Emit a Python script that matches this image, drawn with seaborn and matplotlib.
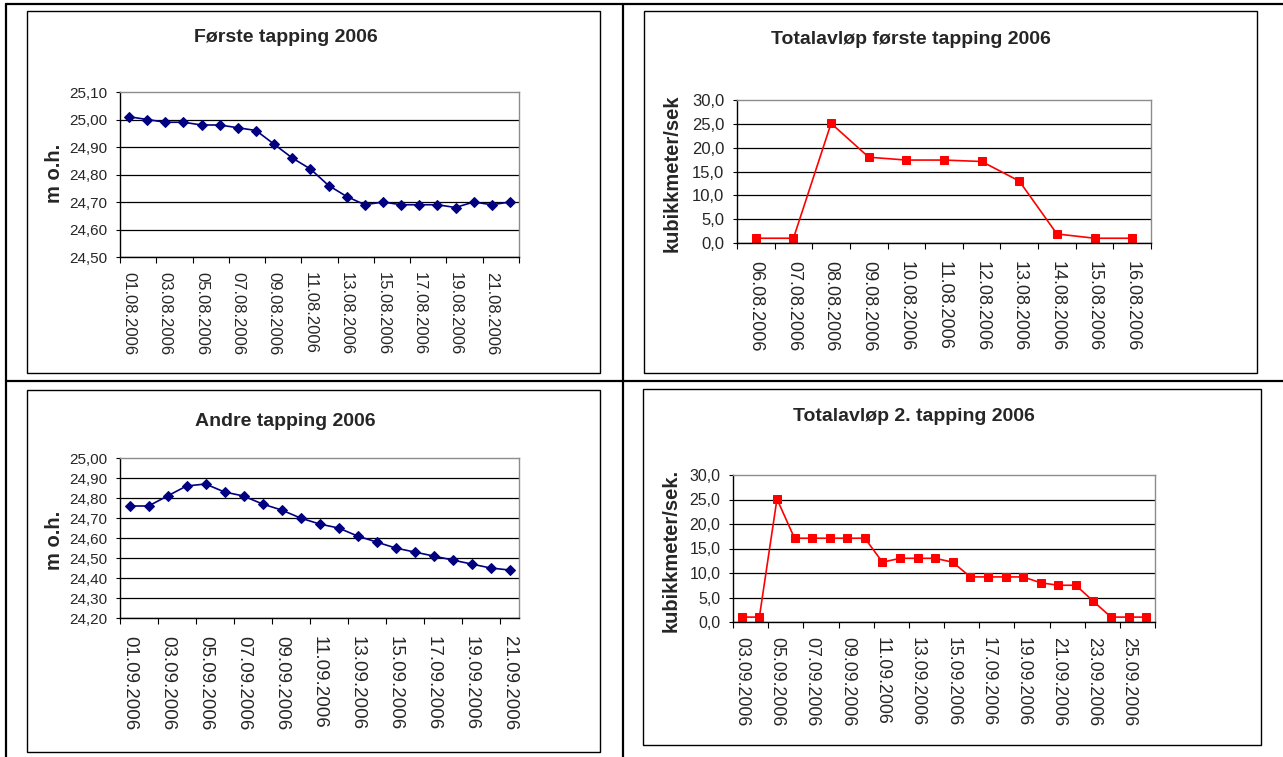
import numpy as np
import pandas as pd
import matplotlib
matplotlib.use("Agg")
import matplotlib.pyplot as plt
from matplotlib.ticker import FuncFormatter, FixedLocator, NullFormatter, FixedFormatter
from matplotlib.lines import Line2D
from matplotlib.patches import Rectangle
import seaborn as sns

W, H = 1283, 757

# water level first tapping (m o.h.)
aug_dates = pd.date_range("2006-08-01", "2006-08-22").strftime("%d.%m.%Y").tolist()
aug_level = [25.01, 25.00, 24.99, 24.99, 24.98, 24.98, 24.97, 24.96, 24.91, 24.86, 24.82,
             24.76, 24.72, 24.69, 24.70, 24.69, 24.69, 24.69, 24.68, 24.70, 24.69, 24.70]

# total outflow first tapping (m3/s)
aug_flow_dates = pd.date_range("2006-08-06", "2006-08-16").strftime("%d.%m.%Y").tolist()
aug_flow = [1.0, 1.0, 25.1, 18.0, 17.4, 17.4, 17.1, 13.0, 1.9, 1.0, 1.0]

# water level second tapping
sep_dates = pd.date_range("2006-09-01", "2006-09-21").strftime("%d.%m.%Y").tolist()
sep_level = [24.76, 24.76, 24.81, 24.86, 24.87, 24.83, 24.81, 24.77, 24.74, 24.70, 24.67,
             24.65, 24.61, 24.58, 24.55, 24.53, 24.51, 24.49, 24.47, 24.45, 24.44]

# total outflow second tapping
sep_flow_dates = pd.date_range("2006-09-03", "2006-09-26").strftime("%d.%m.%Y").tolist()
sep_flow = [1.0, 1.0, 25.1, 17.1, 17.1, 17.1, 17.1, 17.1, 12.2, 13.0, 13.0, 13.0,
            12.2, 9.2, 9.2, 9.2, 9.2, 8.0, 7.5, 7.5, 4.2, 1.0, 1.0, 1.0]

NAVY = "#000080"
RED = "#FF0000"

sns.set_style("white")
plt.rcParams["font.family"] = ["Liberation Sans", "DejaVu Sans"]


def px_axes(fig, x0, y0, x1, y1):
    return fig.add_axes([x0 / W, 1 - y1 / H, (x1 - x0) / W, (y1 - y0) / H])


def comma_fmt(decimals):
    return FuncFormatter(lambda v, p: f"{v:.{decimals}f}".replace(".", ","))


def draw_panel(ax, labels, values, color, marker, ms, ylim, ystep, decimals, every,
               xpad, xsize, ysize):
    n = len(values)
    df = pd.DataFrame({"pos": np.arange(n), "value": values})
    sns.lineplot(data=df, x="pos", y="value", ax=ax, color=color, marker=marker,
                 markersize=ms, markeredgecolor=color, linewidth=1.2)
    ax.set_xlim(-0.5, n - 0.5)
    ax.set_ylim(*ylim)
    ax.set_xlabel("")
    ax.set_ylabel("")

    yt = np.arange(ylim[0], ylim[1] + ystep / 2, ystep)
    ax.set_yticks(yt)
    ax.yaxis.set_major_formatter(comma_fmt(decimals))
    ax.yaxis.grid(True, color="black", linewidth=0.9)
    ax.set_axisbelow(True)
    ax.get_ygridlines()[-1].set_visible(False)
    ax.tick_params(axis="y", which="major", direction="out", length=3, width=0.8,
                   color="black", labelsize=ysize, pad=6, left=True)

    # major ticks between categories, labels on minor ticks at categories
    ax.xaxis.set_major_locator(FixedLocator(np.arange(-0.5, n, every)))
    ax.xaxis.set_major_formatter(NullFormatter())
    pos = np.arange(0, n, every)
    ax.xaxis.set_minor_locator(FixedLocator(pos))
    ax.xaxis.set_minor_formatter(FixedFormatter([labels[i] for i in pos]))
    ax.tick_params(axis="x", which="major", direction="out", length=4, width=0.8,
                   color="black", bottom=True)
    ax.tick_params(axis="x", which="minor", length=0, labelsize=xsize,
                   labelrotation=-90, pad=xpad)
    for t in ax.get_xticklabels(minor=True):
        t.set_va("top")
        t.set_ha("center")

    for s in ["top", "right"]:
        ax.spines[s].set_color("#8c8c8c")
        ax.spines[s].set_linewidth(1.0)
    for s in ["left", "bottom"]:
        ax.spines[s].set_color("black")
        ax.spines[s].set_linewidth(1.0)


fig = plt.figure(figsize=(W / 100, H / 100), dpi=100)

# table grid of the document
for x in (6, 623):
    fig.add_artist(Line2D([x / W, x / W], [1 - 4 / H, 0], color="black", lw=1.6))
for y in (4, 381):
    fig.add_artist(Line2D([6 / W, 1], [1 - y / H, 1 - y / H], color="black", lw=1.6))

# chart frames
for (x0, y0, x1, y1) in [(27, 11, 600, 373), (644, 11, 1257, 373),
                         (27, 390, 600, 752), (643, 389, 1261, 745)]:
    fig.add_artist(Rectangle((x0 / W, 1 - y1 / H), (x1 - x0) / W, (y1 - y0) / H,
                             fill=False, edgecolor="black", lw=1.0))

ax1 = px_axes(fig, 120, 92, 519, 257)
draw_panel(ax1, aug_dates, aug_level, NAVY, "D", 5.5, (24.50, 25.10), 0.10, 2, 2, 11, 12, 11)

ax2 = px_axes(fig, 737, 100, 1151, 243)
draw_panel(ax2, aug_flow_dates, aug_flow, RED, "s", 6, (0, 30), 5, 1, 1, 13, 13, 12)

ax3 = px_axes(fig, 120, 458, 519, 618)
draw_panel(ax3, sep_dates, sep_level, NAVY, "D", 5.5, (24.20, 25.00), 0.10, 2, 2, 13, 13.5, 11)

ax4 = px_axes(fig, 733, 475, 1155, 622)
draw_panel(ax4, sep_flow_dates, sep_flow, RED, "s", 6, (0, 30), 5, 1, 2, 11, 12.8, 11.5)

titles = [("Første tapping 2006", 286, 37), ("Totalavløp første tapping 2006", 911, 40),
          ("Andre tapping 2006", 285, 422), ("Totalavløp 2. tapping 2006", 914, 417)]
for txt, x, y in titles:
    fig.text(x / W, 1 - y / H, txt, ha="center", va="center", fontsize=14, fontweight="bold")

ylabels = [("m o.h.", 55, 173), ("kubikkmeter/sek", 672, 173),
           ("m o.h.", 55, 540), ("kubikkmeter/sek.", 671, 550)]
for txt, x, y in ylabels:
    fig.text(x / W, 1 - y / H, txt, ha="center", va="center", rotation=90,
             fontsize=14.5, fontweight="bold")

fig.savefig("out.png", dpi=100)
